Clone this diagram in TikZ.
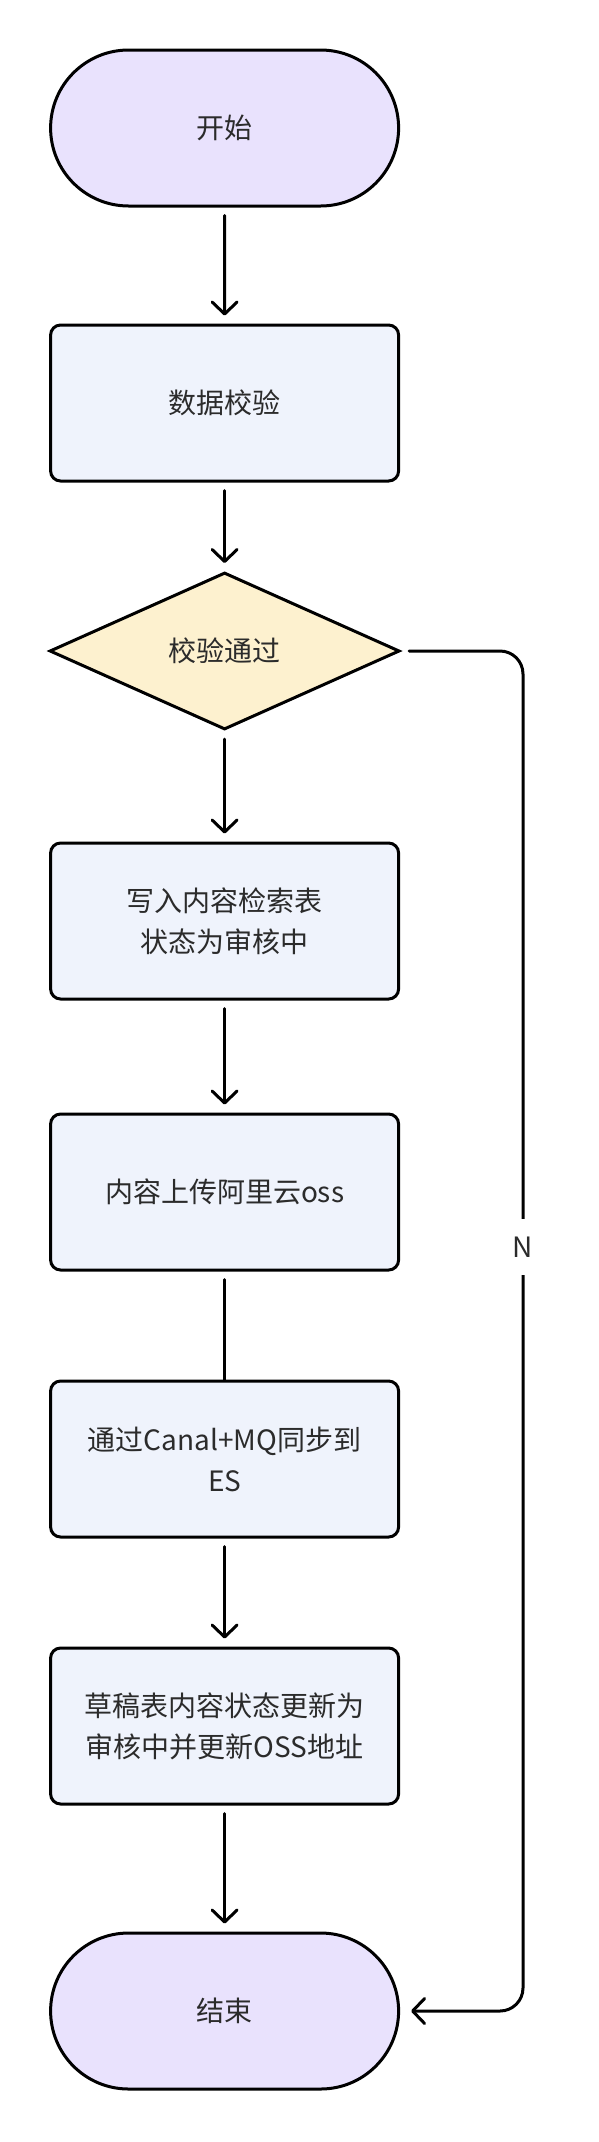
\documentclass[tikz,border=0pt]{standalone}
\usepackage{fontspec}
\newfontfamily\cjk{Noto Sans CJK SC}
\usetikzlibrary{arrows.meta,shapes.geometric,shapes.misc}
\definecolor{termfill}{HTML}{E9E2FD}
\definecolor{boxfill}{HTML}{EFF3FC}
\definecolor{decfill}{HTML}{FDF1CF}
\definecolor{txt}{HTML}{2B2B2B}
\tikzset{
  base/.style={draw=black, line width=3pt, text=txt, align=center, inner sep=0pt,
    font={\cjk\fontsize{28}{41}\selectfont}},
  term/.style={base, rounded rectangle, fill=termfill, minimum width=348pt, minimum height=156pt},
  procbox/.style={base, rectangle, rounded corners=10pt, fill=boxfill, minimum width=348pt, minimum height=156pt},
  decision/.style={base, diamond, fill=decfill, minimum width=350pt, minimum height=157pt, aspect=2.2},
  conn/.style={draw=black, line width=3pt, line cap=round, line join=round},
  arr/.style={conn, -{Straight Barb[length=12pt,width=25pt,round]}, shorten >=8pt, shorten <=8pt},
  plain/.style={conn, shorten <=8pt},
  lbl/.style={fill=white, text=txt, font={\cjk\fontsize{28}{30}\selectfont}, inner xsep=4pt, inner ysep=0pt, minimum height=56pt}
}
\begin{document}
\begin{tikzpicture}[x=1pt, y=-1pt]
\useasboundingbox (0,0) rectangle (598,2142);
\node[term] (start) at (224.6,128) {开始};
\node[procbox] (check) at (224.6,403) {数据校验};
\node[decision] (dec) at (224.6,651) {校验通过};
\node[procbox] (write) at (224.6,921) {写入内容检索表\\状态为审核中};
\node[procbox] (upload) at (224.6,1192) {内容上传阿里云oss};
\node[procbox] (sync) at (224.6,1459) {通过Canal+MQ同步到\\ES};
\node[procbox] (draft) at (224.6,1726) {草稿表内容状态更新为\\审核中并更新OSS地址};
\node[term] (end) at (224.6,2011) {结束};
\coordinate (bx) at (523,0);

\draw[arr] (start) -- (check);
\draw[arr] (check) -- (dec);
\draw[arr] (dec) -- (write);
\draw[arr] (write) -- (upload);
\draw[plain] (upload) -- (sync);
\draw[arr] (sync) -- (draft);
\draw[arr] (draft) -- (end);
\draw[arr, shorten >=11pt, rounded corners=23pt] (dec.east) -- (dec.east -| bx) -- (end.east -| bx) -- (end.east);
\node[lbl] (nlab) at (523,1247) {N};
\end{tikzpicture}
\end{document}
